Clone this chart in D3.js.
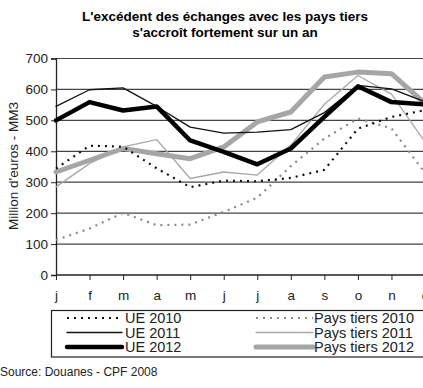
<!DOCTYPE html>
<html>
<head>
<meta charset="utf-8">
<script src="https://cdn.jsdelivr.net/npm/d3@7"></script>
<style>
  body { margin: 0; background: #fff; }
  text { font-family: Arial, "Liberation Sans", sans-serif; }
</style>
</head>
<body>
<script>
// month labels on the x axis
const months = ["j", "f", "m", "a", "m", "j", "j", "a", "s", "o", "n", "d"];
const yTicks = [0, 100, 200, 300, 400, 500, 600, 700];

// values (million euros)
const ue2010 = [344, 418, 415, 345, 284, 305, 303, 314, 340, 473, 511, 533];
const ue2011 = [545, 599, 605, 545, 478, 459, 462, 470, 525, 613, 602, 560];
const ue2012 = [500, 559, 532, 545, 435, 398, 358, 409, 511, 610, 559, 552];
const pt2010 = [113, 150, 201, 161, 163, 204, 250, 352, 441, 506, 474, 330];
const pt2011 = [285, 360, 414, 438, 312, 333, 323, 420, 552, 645, 585, 430];
const pt2012 = [333, 371, 409, 392, 376, 414, 495, 527, 640, 656, 651, 555];

const width = 423, height = 388;

const svg = d3.select("body").append("svg")
    .attr("width", width)
    .attr("height", height);

// title
svg.append("text")
    .attr("x", 225).attr("y", 21)
    .attr("text-anchor", "middle")
    .attr("font-size", 13.5).attr("font-weight", "bold")
    .text("L'excédent des échanges avec les pays tiers");
svg.append("text")
    .attr("x", 225).attr("y", 37)
    .attr("text-anchor", "middle")
    .attr("font-size", 13.5).attr("font-weight", "bold")
    .text("s'accroît fortement sur un an");

const x = d3.scalePoint()
    .domain(d3.range(months.length))
    .range([56, 425]);

const y = d3.scaleLinear()
    .domain([0, 700])
    .range([275, 58.5]);

// gridlines
svg.append("g")
    .selectAll("line")
    .data(yTicks.filter(d => d > 0))
    .join("line")
        .attr("x1", 56).attr("x2", width)
        .attr("y1", d => y(d)).attr("y2", d => y(d))
        .attr("stroke", "#444")
        .attr("stroke-width", 1.2);

// y axis
const yAxis = svg.append("g")
    .attr("transform", "translate(56,0)")
    .call(d3.axisLeft(y).tickValues(yTicks).tickSize(5).tickPadding(3));
yAxis.select(".domain").attr("stroke", "#222").attr("stroke-width", 1.3);
yAxis.selectAll(".tick line").attr("stroke", "#222");
yAxis.selectAll("text")
    .attr("font-size", 13.5)
    .attr("fill", "#222")
    .attr("font-family", "Arial, 'Liberation Sans', sans-serif");

// x axis
const xAxis = svg.append("g")
    .attr("transform", "translate(0,275)")
    .call(d3.axisBottom(x).tickFormat(i => months[i]).tickSize(5).tickPadding(10));
xAxis.select(".domain").attr("stroke", "#222").attr("stroke-width", 1.3)
    .attr("d", "M56,0H" + width);
xAxis.selectAll(".tick line").attr("stroke", "#222");
xAxis.selectAll("text")
    .attr("font-size", 13.5)
    .attr("fill", "#222")
    .attr("font-family", "Arial, 'Liberation Sans', sans-serif");

// y axis title
svg.append("text")
    .attr("transform", "translate(18,166) rotate(-90)")
    .attr("text-anchor", "middle")
    .attr("font-size", 13.5)
    .attr("fill", "#222")
    .text("Million d'euros - MM3");

const series = [
  {name: "UE 2010", values: ue2010, color: "#111", w: 2.2, dash: "2,5"},
  {name: "UE 2011", values: ue2011, color: "#111", w: 1.3, dash: null},
  {name: "UE 2012", values: ue2012, color: "#000", w: 4.5, dash: null},
  {name: "Pays tiers 2010", values: pt2010, color: "#8a8a8a", w: 2.2, dash: "2,5"},
  {name: "Pays tiers 2011", values: pt2011, color: "#a8a8a8", w: 1.3, dash: null},
  {name: "Pays tiers 2012", values: pt2012, color: "#a6a6a6", w: 5, dash: null}
];

const line = d3.line()
    .x((d, i) => x(i))
    .y(d => y(d));

// draw order: grey first, then black
const order = [3, 4, 5, 0, 1, 2];
svg.append("g")
    .selectAll("path")
    .data(order.map(i => series[i]))
    .join("path")
        .attr("d", d => line(d.values))
        .attr("fill", "none")
        .attr("stroke", d => d.color)
        .attr("stroke-width", d => d.w)
        .attr("stroke-dasharray", d => d.dash)
        .attr("stroke-linejoin", "round")
        .attr("stroke-linecap", d => d.dash ? "butt" : "round");

// legend
svg.append("rect")
    .attr("x", 51.5).attr("y", 310.5)
    .attr("width", 380).attr("height", 46.5)
    .attr("fill", "none")
    .attr("stroke", "#222")
    .attr("stroke-width", 1.2);

const leg = svg.append("g")
    .selectAll("g")
    .data(series)
    .join("g")
        .attr("transform", (d, i) => "translate(" + (i < 3 ? 67 : 256) + "," + (318 + (i % 3) * 14.5) + ")");

leg.append("line")
    .attr("x1", 0).attr("x2", d => d.name.startsWith("UE") ? 55 : 57)
    .attr("y1", 0).attr("y2", 0)
    .attr("stroke", d => d.color)
    .attr("stroke-width", d => d.w)
    .attr("stroke-dasharray", d => d.dash)
    .attr("stroke-linecap", d => d.dash ? "butt" : "round");

leg.append("text")
    .attr("x", d => d.name.startsWith("UE") ? 58 : 58)
    .attr("y", 5)
    .attr("font-size", 14.5)
    .attr("fill", "#222")
    .text(d => d.name);

// source
svg.append("text")
    .attr("x", 0).attr("y", 376)
    .attr("font-size", 12)
    .attr("fill", "#222")
    .text("Source: Douanes - CPF 2008");
</script>
</body>
</html>
